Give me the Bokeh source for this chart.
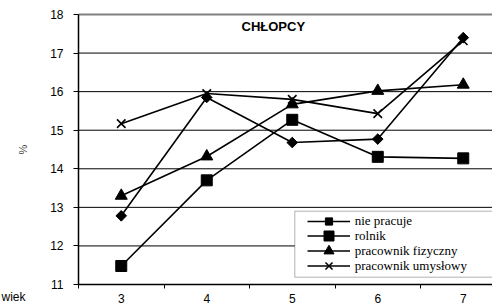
import math
from bokeh.plotting import figure
from bokeh.models import (FixedTicker, Label, Legend, LegendItem, BoxAnnotation)
from bokeh.embed import file_html
from bokeh.resources import INLINE

ages = [3, 4, 5, 6, 7]
age_labels = ["3", "4", "5", "6", "7"]
nie_pracuje = [12.78, 15.85, 14.68, 14.77, 17.40]
rolnik = [11.48, 13.70, 15.27, 14.31, 14.27]
pracownik_fizyczny = [13.30, 14.32, 15.67, 16.02, 16.18]
pracownik_umyslowy = [15.17, 15.95, 15.80, 15.43, 17.32]
series_names = ["nie pracuje", "rolnik", "pracownik fizyczny", "pracownik umysłowy"]
y_ticks = [11, 12, 13, 14, 15, 16, 17, 18]
x_title = "wiek"
y_title = "%"
chart_title = "CHŁOPCY"

PX_X = 85.5          # pixels per x unit
PX_Y = 270 / 7       # pixels per y unit
X0, X1 = 2.5, 2.5 + 414 / PX_X
Y0, Y1 = 11, 18

# the frame covers the whole canvas; axes are pinned at the data origin
p = figure(width=492, height=304, output_backend="svg", toolbar_location=None,
           x_range=(X0 - 78 / PX_X, X1), y_range=(Y0 - 20 / PX_Y, Y1 + 14 / PX_Y),
           min_border_left=0, min_border_right=0, min_border_top=0, min_border_bottom=0)
p.outline_line_color = None
p.background_fill_color = "white"
p.xgrid.visible = False
p.ygrid.visible = False

# x axis: labels at categories, tick marks between categories
p.xaxis.fixed_location = Y0
p.xaxis.bounds = (X0, X1)
p.xaxis.ticker = FixedTicker(ticks=ages, minor_ticks=[a - 0.5 for a in ages] + [ages[-1] + 0.5])
p.xaxis.major_label_overrides = {a: l for a, l in zip(ages, age_labels)}
p.xaxis.major_tick_out = 0
p.xaxis.major_tick_in = 0
p.xaxis.major_tick_line_color = None
p.xaxis.minor_tick_out = 4
p.xaxis.minor_tick_in = 0
p.xaxis.minor_tick_line_color = "black"
p.xaxis.major_label_standoff = 5
p.xaxis.major_label_text_font = "Liberation Sans"
p.xaxis.major_label_text_font_size = "12px"
p.xaxis.major_label_text_color = "black"
p.xaxis.axis_line_color = "black"
p.xaxis.axis_line_width = 1.5

p.yaxis.fixed_location = X0
p.yaxis.bounds = (Y0, Y1)
p.yaxis.ticker = FixedTicker(ticks=y_ticks, minor_ticks=[])
p.yaxis.major_tick_out = 5
p.yaxis.major_tick_in = 0
p.yaxis.major_tick_line_color = "black"
p.yaxis.axis_line_color = "black"
p.yaxis.axis_line_width = 1.5
p.yaxis.major_label_standoff = 10
p.yaxis.major_label_text_font = "Liberation Sans"
p.yaxis.major_label_text_font_size = "12px"
p.yaxis.major_label_text_color = "black"
p.yaxis.axis_label = y_title
p.yaxis.axis_label_text_font = "Liberation Sans"
p.yaxis.axis_label_text_font_size = "11px"
p.yaxis.axis_label_text_font_style = "normal"
p.yaxis.axis_label_standoff = 18

# horizontal grid lines (black) and the grey top line, limited to the plot area
inner = y_ticks[1:-1]
p.segment(x0=[X0] * len(inner), y0=inner, x1=[X1] * len(inner), y1=inner,
          line_color="black", line_width=1, level="underlay")
p.segment(x0=[X0], y0=[y_ticks[-1]], x1=[X1], y1=[y_ticks[-1]],
          line_color="#808080", line_width=2, level="underlay")

lw = 1.6
r1l = p.line(ages, nie_pracuje, line_color="black", line_width=lw)
r1m = p.scatter(ages, nie_pracuje, marker="square", angle=math.pi / 4, size=7.5,
                fill_color="black", line_color="black")
r2l = p.line(ages, rolnik, line_color="black", line_width=lw)
r2m = p.scatter(ages, rolnik, marker="square", size=11, fill_color="black", line_color="black")
r3l = p.line(ages, pracownik_fizyczny, line_color="black", line_width=lw)
r3m = p.scatter(ages, pracownik_fizyczny, marker="triangle", size=12,
                fill_color="black", line_color="black")
r4l = p.line(ages, pracownik_umyslowy, line_color="black", line_width=lw)
r4m = p.scatter(ages, pracownik_umyslowy, marker="x", size=12, line_color="black", line_width=1.6)

# legend frame
p.add_layout(BoxAnnotation(left=X0 + (294.3 - 78) / PX_X, right=X1 + 2,
                           top=Y1 - (210.7 - 14) / PX_Y,
                           bottom=Y1 - (276.7 - 14) / PX_Y,
                           fill_color="white", fill_alpha=1,
                           line_color="black", line_width=1, level="annotation"))

# one legend per row so that marker sizes can follow the reference
renderers = [(r1l, r1m), (r2l, r2m), (r3l, r3m), (r4l, r4m)]
glyph_heights = [18, 25, 25, 25]
for i, (name, rs, gh) in enumerate(zip(series_names, renderers, glyph_heights)):
    row_center = 304 - 220.7 - 15 * i   # pixels above frame bottom
    lg = Legend(items=[LegendItem(label=name, renderers=list(rs))],
                location=(306.7, row_center - gh / 2))
    lg.padding = 0
    lg.spacing = 0
    lg.glyph_height = gh
    lg.glyph_width = 43
    lg.label_standoff = 5
    lg.label_height = gh
    lg.label_text_font = "Liberation Serif"
    lg.label_text_font_size = "13px"
    lg.label_text_color = "black"
    lg.border_line_color = None
    lg.background_fill_alpha = 0
    lg.margin = 0
    p.add_layout(lg, "center")

title = Label(x=X0 + (241 - 78) / PX_X, y=Y1 - 12 / PX_Y, text=chart_title,
              text_align="left", text_baseline="middle",
              text_font="Liberation Sans", text_font_style="bold", text_font_size="13px",
              text_color="black")
p.add_layout(title)

wiek = Label(x=X0 - 77 / PX_X, y=Y0 - 12 / PX_Y, text=x_title,
             text_align="left", text_baseline="alphabetic",
             text_font="Liberation Sans", text_font_size="12px", text_color="black")
p.add_layout(wiek)

open("out.html", "w").write(file_html(p, INLINE))
